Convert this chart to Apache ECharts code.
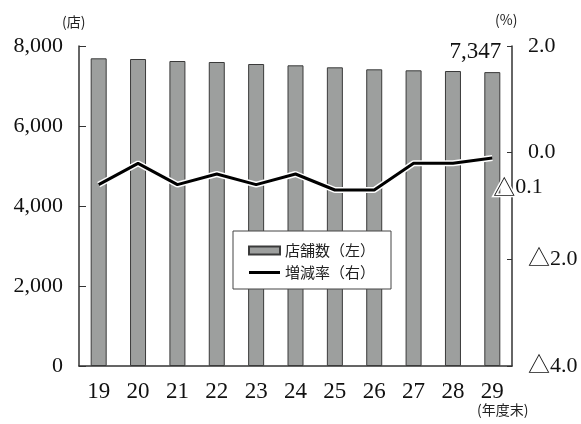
<!DOCTYPE html>
<html>
<head>
<meta charset="utf-8">
<script src="https://cdn.jsdelivr.net/npm/echarts@6/dist/echarts.min.js"></script>
<style>
  html, body { margin: 0; padding: 0; background: #fff; }
  #chart { width: 581px; height: 424px; }
</style>
</head>
<body>
<div id="chart"></div>
<script>
// Fiscal year-end (Heisei) categories
const years = ['19', '20', '21', '22', '23', '24', '25', '26', '27', '28', '29'];
// Number of stores (left axis)
const storeCounts = [7692, 7675, 7625, 7600, 7550, 7517, 7467, 7417, 7392, 7375, 7347];
// Year-on-year change rate in % (right axis)
const changeRates = [-0.6, -0.2, -0.6, -0.4, -0.6, -0.4, -0.7, -0.7, -0.2, -0.2, -0.1];
// Axis tick settings
const leftTicks = { min: 0, max: 8000, interval: 2000 };
const rightTicks = { min: -4, max: 2, interval: 2 };

const serif = '"Liberation Serif", "Noto Sans CJK JP", serif';
const jp = '"Noto Sans CJK JP", sans-serif';
const axisColor = '#333';

const lastIdx = years.length - 1;

function fmtRate(v) {
  const s = Math.abs(v).toFixed(1);
  return v < 0 ? '△' + s : s;
}

const chart = echarts.init(document.getElementById('chart'), null, { renderer: 'canvas' });
chart.setOption({
  animation: false,
  backgroundColor: '#fff',
  grid: { left: 79, right: 69, top: 46, bottom: 58 },
  legend: {
    data: [
      { name: '店舗数（左）', icon: 'rect' },
      { name: '増減率（右）', icon: 'path://M0,0H31V3H0Z' }
    ],
    orient: 'vertical',
    left: 233,
    top: 231,
    padding: [12, 16, 9, 15],
    itemGap: 7,
    itemWidth: 31,
    itemHeight: 8,
    symbolKeepAspect: true,
    backgroundColor: '#fff',
    borderColor: '#444',
    borderWidth: 1,
    borderRadius: 0,
    textStyle: { fontFamily: jp, fontSize: 15, color: '#222' },
    inactiveColor: '#ccc'
  },
  xAxis: {
    type: 'category',
    data: years,
    axisLine: { lineStyle: { color: axisColor, width: 1.5 } },
    axisTick: { inside: true, length: 8, lineStyle: { color: axisColor } },
    axisLabel: { fontFamily: serif, fontSize: 23, color: '#111', margin: 14 }
  },
  yAxis: [
    {
      type: 'value',
      min: leftTicks.min, max: leftTicks.max, interval: leftTicks.interval,
      position: 'left',
      splitLine: { show: false },
      axisLine: { show: true, lineStyle: { color: axisColor, width: 1.5 } },
      axisTick: { show: true, inside: true, length: 7, lineStyle: { color: axisColor } },
      axisLabel: {
        fontFamily: serif, fontSize: 22, color: '#111', margin: 16,
        formatter: v => v.toLocaleString('en-US')
      }
    },
    {
      type: 'value',
      min: rightTicks.min, max: rightTicks.max, interval: rightTicks.interval,
      position: 'right',
      splitLine: { show: false },
      axisLine: { show: true, lineStyle: { color: axisColor, width: 1.5 } },
      axisTick: { show: true, inside: true, length: 5, lineStyle: { color: axisColor } },
      axisLabel: {
        fontFamily: serif, fontSize: 22, color: '#111', margin: 16,
        formatter: fmtRate
      }
    }
  ],
  series: [
    {
      name: '店舗数（左）',
      type: 'bar',
      yAxisIndex: 0,
      data: storeCounts,
      barWidth: 16,
      itemStyle: { color: '#9d9f9e', borderColor: '#3a3a3a', borderWidth: 1 },
      label: {
        show: true,
        position: 'top',
        offset: [-17, -4],
        fontFamily: serif, fontSize: 23, color: '#111',
        formatter: p => p.dataIndex === lastIdx ? p.value.toLocaleString('en-US') : ''
      }
    },
    {
      // white halo underneath the rate line
      name: 'halo',
      type: 'line',
      yAxisIndex: 1,
      data: changeRates,
      symbol: 'none',
      lineStyle: { color: '#fff', width: 6 },
      silent: true,
      z: 3
    },
    {
      name: '増減率（右）',
      type: 'line',
      yAxisIndex: 1,
      data: changeRates,
      symbol: 'circle',
      symbolSize: 0,
      showSymbol: true,
      itemStyle: { color: '#000' },
      lineStyle: { color: '#000', width: 3 },
      z: 5,
      label: {
        show: true,
        position: 'right',
        offset: [-4, 29],
        fontFamily: serif, fontSize: 22, color: '#111',
        formatter: p => p.dataIndex === lastIdx ? '{tri|△}' + Math.abs(p.value).toFixed(1) : '',
        rich: {
          tri: {
            fontFamily: jp, fontSize: 22, color: '#111',
            textBorderColor: '#fff', textBorderWidth: 3
          }
        }
      }
    }
  ],
  graphic: [
    { type: 'text', left: 62, top: 15, style: { text: '(店)', font: '14px ' + jp, fill: '#222' } },
    { type: 'text', left: 495, top: 13, style: { text: '(%)', font: '14px ' + jp, fill: '#222' } },
    { type: 'text', left: 477, top: 403, style: { text: '(年度末)', font: '14px ' + jp, fill: '#222' } }
  ]
});
</script>
</body>
</html>
